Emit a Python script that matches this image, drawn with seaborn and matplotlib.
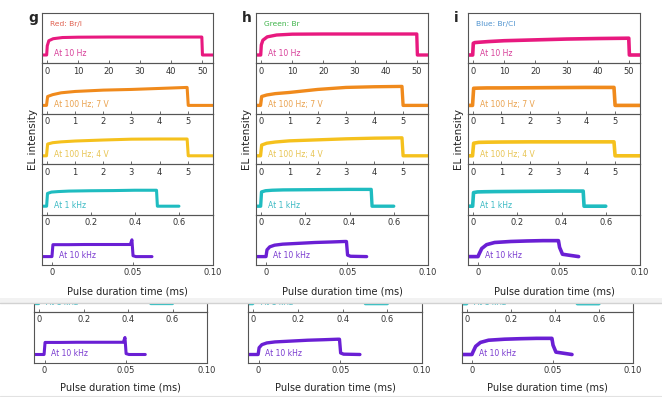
import numpy as np
import pandas as pd
import matplotlib.pyplot as plt
import seaborn as sns
from matplotlib.lines import Line2D
from matplotlib.patches import Rectangle

sns.set_style("white")
plt.rcParams['font.family'] = ['DejaVu Sans']

W, H = 662, 397

# Tiempos (ms) de cada fila
t_10hz = [-1.6, -0.1, 0.1, 0.6, 2, 5, 10, 20, 30, 40, 49.9, 50.1, 53.5]
t_100hz = [-0.2, -0.02, 0.02, 0.2, 0.5, 1, 2, 3, 4, 4.98, 5.02, 5.9]
t_1khz = [-0.02, -0.002, 0.002, 0.02, 0.05, 0.1, 0.2, 0.3, 0.4, 0.498, 0.502, 0.6]
t_10khz = [-0.0065, -0.0003, 0.0003, 0.002, 0.005, 0.01, 0.02, 0.03, 0.04,
           0.0485, 0.0495, 0.0502, 0.052, 0.062]

# Intensidad EL (u.a.) - g: Red Br/I
g_10hz = [0, 0, 0.55, 0.85, 0.97, 1.04, 1.06, 1.07, 1.07, 1.07, 1.07, 0, 0]
g_100hz_7v = [0, 0, 0.53, 0.64, 0.75, 0.83, 0.91, 0.95, 1.01, 1.07, 0, 0]
g_100hz_4v = [0, 0, 0.70, 0.78, 0.83, 0.88, 0.94, 0.99, 1.0, 1.0, 0, 0]
g_1khz = [0, 0, 0.76, 0.84, 0.87, 0.90, 0.92, 0.93, 0.95, 0.95, 0, 0]
g_10khz = [0, 0, 0.71, 0.71, 0.71, 0.71, 0.72, 0.72, 0.72, 0.72, 1.0, 0.05, 0, 0]

# h: Green Br
h_10hz = [0, 0, 0.6, 0.88, 1.08, 1.19, 1.24, 1.25, 1.25, 1.25, 1.25, 0, 0]
h_100hz_7v = [0, 0, 0.53, 0.62, 0.70, 0.77, 0.95, 1.07, 1.11, 1.13, 0, 0]
h_100hz_4v = [0, 0, 0.64, 0.75, 0.82, 0.89, 0.95, 1.01, 1.05, 1.07, 0, 0]
h_1khz = [0, 0, 0.85, 0.92, 0.95, 0.97, 0.98, 0.99, 1.0, 1.0, 0, 0]
h_10khz = [0, 0, 0.40, 0.58, 0.68, 0.74, 0.79, 0.84, 0.87, 0.9, 0.9, 0.09, 0.02, 0]

# i: Blue Br/Cl
i_10hz = [0, 0, 0.70, 0.74, 0.76, 0.80, 0.85, 0.90, 0.95, 0.98, 1.0, 0, 0]
i_100hz_7v = [0, 0, 1.02, 1.03, 1.04, 1.04, 1.05, 1.06, 1.07, 1.07, 0, 0]
i_100hz_4v = [0, 0, 0.75, 0.80, 0.81, 0.82, 0.83, 0.83, 0.83, 0.83, 0, 0]
i_1khz = [0, 0, 0.81, 0.85, 0.86, 0.87, 0.88, 0.89, 0.9, 0.9, 0, 0]
i_10khz = [0, 0, 0.14, 0.48, 0.71, 0.84, 0.90, 0.93, 0.95, 0.95, 0.95, 0.55, 0.14, 0]

row_times = [t_10hz, t_100hz, t_100hz, t_1khz, t_10khz]
row_labels = ["At 10 Hz", "At 100 Hz; 7 V", "At 100 Hz; 4 V", "At 1 kHz", "At 10 kHz"]
headers = ["Red: Br/I", "Green: Br", "Blue: Br/Cl"]
panel_letters = ["g", "h", "i"]
panel_values = [
    [g_10hz, g_100hz_7v, g_100hz_4v, g_1khz, g_10khz],
    [h_10hz, h_100hz_7v, h_100hz_4v, h_1khz, h_10khz],
    [i_10hz, i_100hz_7v, i_100hz_4v, i_1khz, i_10khz],
]

row_xlims = [(-1.6, 53.5), (-0.18, 5.9), (-0.18, 5.9), (-0.023, 0.755), (-0.0065, 0.1)]
row_xticks = [[0, 10, 20, 30, 40, 50], [0, 1, 2, 3, 4, 5], [0, 1, 2, 3, 4, 5],
              [0, 0.2, 0.4, 0.6], [0, 0.05, 0.10]]
row_xticklabels = [["0", "10", "20", "30", "40", "50"], ["0", "1", "2", "3", "4", "5"],
                   ["0", "1", "2", "3", "4", "5"], ["0", "0.2", "0.4", "0.6"],
                   ["0", "0.05", "0.10"]]

line_colors = ["#e8197f", "#f08a1c", "#f5c11d", "#1fbcc0", "#6a1fd4"]
text_colors = ["#d8409a", "#eaa24e", "#e8c452", "#3cbac4", "#7a3bd0"]
header_colors = ["#e0604f", "#3fb44a", "#4f93cf"]
line_widths = [2.2, 2.4, 2.6]

panel_x = [(42, 213), (256, 428), (468, 640)]
strip_x = [(34, 207), (248, 422), (462, 633)]

YLIM = (-0.5, 2.5)
ROW_H = 50.4

fig = plt.figure(figsize=(W / 100, H / 100), dpi=100)


def add_ax(x0, x1, top, bottom):
    ax = fig.add_axes([x0 / W, 1 - bottom / H, (x1 - x0) / W, (bottom - top) / H])
    ax.set_facecolor("none")
    return ax


def draw_row(ax, p, r, ylim=YLIM):
    df = pd.DataFrame({"t": row_times[r], "v": panel_values[p][r]})
    sns.lineplot(data=df, x="t", y="v", ax=ax, color=line_colors[r],
                 lw=line_widths[p], sort=False, estimator=None)
    ax.set_xlim(row_xlims[r])
    ax.set_ylim(ylim)
    ax.set_xticks(row_xticks[r])
    ax.set_xticklabels(row_xticklabels[r])
    ax.set_yticks([])
    ax.set_xlabel("")
    ax.set_ylabel("")
    ax.tick_params(axis="x", direction="in", length=2.5, width=0.6, labelsize=6,
                   pad=2.5, colors="#555555", labelcolor="#333333", bottom=True)
    for s in ax.spines.values():
        s.set_color("#555555")
        s.set_linewidth(0.8)
    lx = 0.072 if r < 4 else 0.1
    ax.text(lx, 0.19, row_labels[r], transform=ax.transAxes, fontsize=5.5,
            color=text_colors[r], va="center", ha="left", clip_on=True)


# Bloque principal
for p in range(3):
    x0, x1 = panel_x[p]
    for r in range(5):
        top = 13 + r * ROW_H
        ax = add_ax(x0, x1, top, top + ROW_H)
        draw_row(ax, p, r)
        if r == 0:
            ax.text(0.047, 0.79, headers[p], transform=ax.transAxes, fontsize=5.4,
                    color=header_colors[p], va="center", ha="left")
    fig.text((x0 - 14) / W, 1 - 18 / H, panel_letters[p], fontsize=10,
             fontweight="bold", ha="left", va="center")
    fig.text((x0 - 9) / W, 1 - 139 / H, "EL intensity", rotation=90, fontsize=7.5,
             ha="center", va="center", color="#222222")
    fig.text((x0 + x1) / 2 / W, 1 - 291 / H, "Pulse duration time (ms)", fontsize=7,
             ha="center", va="center", color="#222222")

# Franja repetida (captura)
fig.add_artist(Rectangle((0, 1 - 303 / H), 1, 5 / H, transform=fig.transFigure,
                         color="#f2f2f2", lw=0))
fig.add_artist(Line2D([0, 1], [1 - 303 / H] * 2, transform=fig.transFigure,
                      color="#d2d2d2", lw=1.0))
fig.add_artist(Line2D([0, 1], [1 - 395.5 / H] * 2, transform=fig.transFigure,
                      color="#e2e2e2", lw=0.8))

part = 312 - 303.5
for p in range(3):
    x0, x1 = strip_x[p]
    ax = add_ax(x0, x1, 303.5, 312)
    draw_row(ax, p, 3, ylim=(YLIM[0], YLIM[0] + (YLIM[1] - YLIM[0]) * part / ROW_H))
    ax.texts[0].set_position((0.072, 0.19 * ROW_H / part))
    ax.spines["top"].set_visible(False)
    ax = add_ax(x0, x1, 312, 363)
    draw_row(ax, p, 4)
    fig.text((x0 + x1) / 2 / W, 1 - 388 / H, "Pulse duration time (ms)", fontsize=7,
             ha="center", va="center", color="#222222")

fig.savefig("out.png", dpi=100, facecolor="white")
